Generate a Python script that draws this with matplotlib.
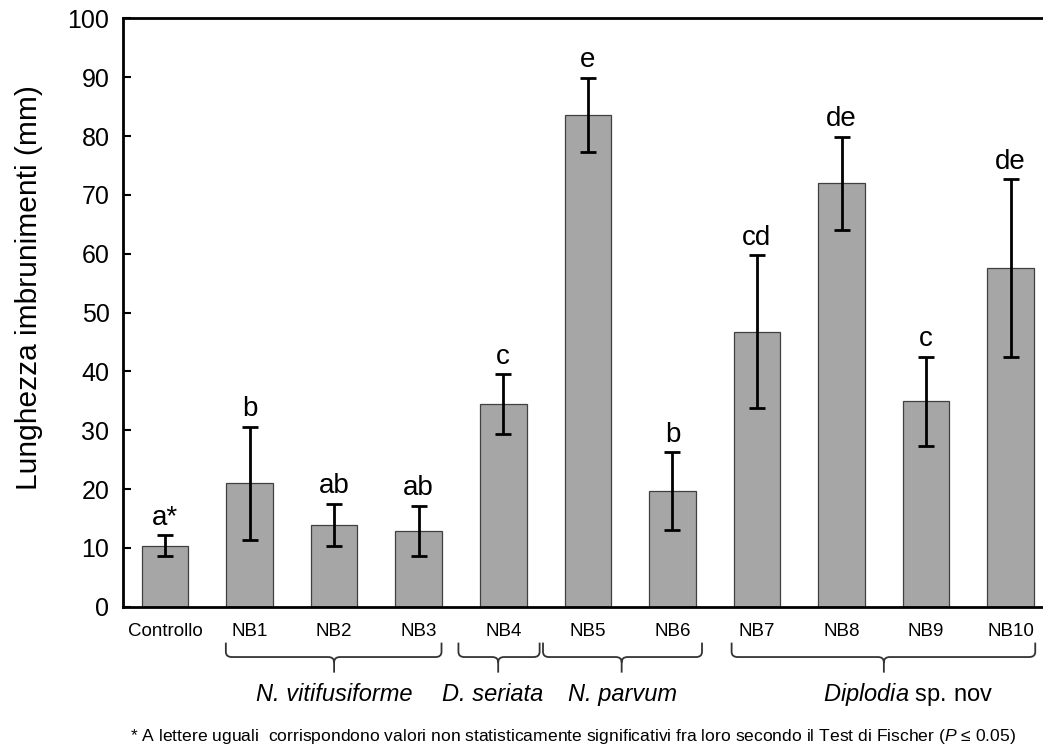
import matplotlib.pyplot as plt
from matplotlib.path import Path
from matplotlib.patches import PathPatch
import matplotlib.transforms as mtransforms

plt.rcParams["font.family"] = ["Liberation Sans", "DejaVu Sans"]
plt.rcParams["mathtext.fontset"] = "custom"
plt.rcParams["mathtext.rm"] = "Liberation Sans"
plt.rcParams["mathtext.it"] = "Liberation Sans:italic"

labels = ["Controllo", "NB1", "NB2", "NB3", "NB4", "NB5", "NB6", "NB7", "NB8", "NB9", "NB10"]
means = [10.4, 21.0, 13.9, 12.9, 34.4, 83.6, 19.7, 46.7, 72.0, 34.9, 57.6]
errors = [1.8, 9.6, 3.6, 4.3, 5.1, 6.3, 6.6, 13.0, 7.9, 7.6, 15.1]
letters = ["a*", "b", "ab", "ab", "c", "e", "b", "cd", "de", "c", "de"]

# species groups: (label, first bar, last bar)
groups = [
    ("N. vitifusiforme", 1, 3),
    ("D. seriata", 4, 4),
    ("N. parvum", 5, 6),
    (r"$\mathit{Diplodia}$ sp. nov", 7, 10),
]

footnote = ("* A lettere uguali  corrispondono valori non statisticamente significativi "
            "fra loro secondo il Test di Fischer ($\\mathit{P}$ \u2264 0.05)")


def draw_brace(ax, x0, x1, xc, trans):
    ytop, ymid, ytip = -0.061, -0.0855, -0.112
    rx, ry = 0.07, 0.009
    verts = [
        (x0, ytop), (x0, ymid + ry), (x0, ymid), (x0 + rx, ymid),
        (xc - rx, ymid), (xc, ymid), (xc, ymid - ry), (xc, ytip),
        (xc, ymid - ry), (xc, ymid), (xc + rx, ymid),
        (x1 - rx, ymid), (x1, ymid), (x1, ymid + ry), (x1, ytop),
    ]
    codes = [
        Path.MOVETO, Path.LINETO, Path.CURVE3, Path.CURVE3,
        Path.LINETO, Path.CURVE3, Path.CURVE3, Path.LINETO,
        Path.MOVETO, Path.CURVE3, Path.CURVE3,
        Path.LINETO, Path.CURVE3, Path.CURVE3, Path.LINETO,
    ]
    patch = PathPatch(Path(verts, codes), facecolor="none", edgecolor="#333333",
                      linewidth=1.3, transform=trans, clip_on=False)
    ax.add_patch(patch)


fig = plt.figure(figsize=(10.43, 7.45), dpi=100)
ax = fig.add_axes([0.1176, 0.1856, 0.892, 0.7898])

x = list(range(len(labels)))
ax.bar(x, means, width=0.55, color="#a6a6a6", edgecolor="#404040", linewidth=0.9, zorder=2)
ax.errorbar(x, means, yerr=errors, fmt="none", ecolor="black", elinewidth=2,
            capsize=5.5, capthick=2, zorder=3)

for xi, m, e, t in zip(x, means, errors, letters):
    ax.annotate(t, (xi, m + e), xytext=(0, 7.5), textcoords="offset points",
                ha="center", va="baseline", fontsize=20)

ax.set_xlim(-0.5, 10.5)
ax.set_ylim(0, 100)
ax.set_yticks(range(0, 101, 10))
ax.tick_params(axis="y", direction="in", length=6, width=1.5, labelsize=18, pad=9.5)
ax.tick_params(axis="x", length=0, labelsize=13.5, pad=11.5)
ax.set_xticks(x)
ax.set_xticklabels(labels)
ax.set_ylabel("Lunghezza imbrunimenti (mm)", fontsize=21.5)
ax.yaxis.set_label_coords(-0.0857, 0.5425)

for side in ["left", "bottom", "top"]:
    ax.spines[side].set_linewidth(2)
ax.spines["right"].set_visible(False)

trans = mtransforms.blended_transform_factory(ax.transData, ax.transAxes)
brace_x = {1: (0.72, 3.27, 2.0), 4: (3.47, 4.43, 3.94), 5: (4.47, 6.35, 5.40), 7: (6.70, 10.29, 8.50)}
label_x = {1: 2.0, 4: 3.88, 5: 5.41, 7: 8.79}
for name, first, last in groups:
    x0, x1, xc = brace_x[first]
    draw_brace(ax, x0, x1, xc, trans)
    style = "normal" if name.startswith("$") else "italic"
    ax.text(label_x[first], -0.150, name, transform=trans, ha="center", va="center",
            fontsize=17, style=style)

fig.text(0.549, 0.012, footnote, ha="center", va="center", fontsize=12.6)

fig.savefig("out.png", dpi=100)
